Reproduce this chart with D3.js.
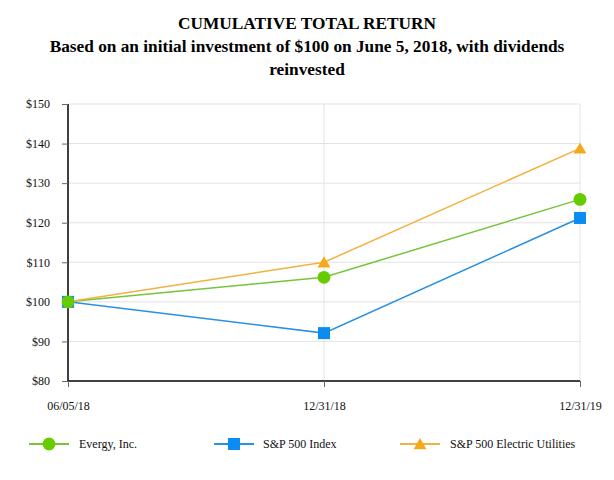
<!DOCTYPE html>
<html>
<head>
<meta charset="utf-8">
<script src="https://cdn.jsdelivr.net/npm/d3@7"></script>
<style>
  body { margin: 0; background: #fff; }
  svg text { font-family: "Liberation Serif", "Times New Roman", serif !important; }
</style>
</head>
<body>
<svg id="chart" width="614" height="480"></svg>
<script>
const dates = ["06/05/18", "12/31/18", "12/31/19"];
const evergy = [100, 106.2, 125.9];
const sp500 = [100, 92.1, 121.2];
const utilities = [100, 110.0, 138.8];
const yTicks = [80, 90, 100, 110, 120, 130, 140, 150];

const series = [
  { name: "Evergy, Inc.", values: evergy, color: "#66cc00", line: "#77c43a", shape: "circle" },
  { name: "S&P 500 Index", values: sp500, color: "#0a8cf0", line: "#2a90e0", shape: "square" },
  { name: "S&P 500 Electric Utilities", values: utilities, color: "#f5a81c", line: "#f2b140", shape: "triangle" }
];

const serif = '"Liberation Serif", "Times New Roman", serif';
const svg = d3.select("#chart").attr("font-family", serif);
const margin = { top: 104, right: 34, bottom: 99, left: 68 };
const width = 614 - margin.left - margin.right;
const height = 480 - margin.top - margin.bottom;

// title
const title = ["CUMULATIVE TOTAL RETURN",
  "Based on an initial investment of $100 on June 5, 2018, with dividends",
  "reinvested"];
svg.selectAll(".title")
  .data(title)
  .enter().append("text")
  .attr("x", 307)
  .attr("y", (d, i) => 29 + i * 23)
  .attr("text-anchor", "middle")
  .style("font-family", serif)
  .style("font-size", "17.3px")
  .style("font-weight", "bold")
  .text(d => d);

const g = svg.append("g")
  .attr("transform", `translate(${margin.left},${margin.top})`);

const x = d3.scalePoint().domain(dates).range([0, width]);
const y = d3.scaleLinear().domain([80, 150]).range([height, 0]);

// grid
g.selectAll(".hgrid")
  .data(yTicks.slice(1))
  .enter().append("line")
  .attr("x1", 0).attr("x2", width)
  .attr("y1", d => y(d)).attr("y2", d => y(d))
  .attr("stroke", "#e3e3e3");
g.selectAll(".vgrid")
  .data(dates.slice(1))
  .enter().append("line")
  .attr("x1", d => x(d)).attr("x2", d => x(d))
  .attr("y1", 0).attr("y2", height)
  .attr("stroke", "#e3e3e3");

// axes
const yAxis = g.append("g")
  .call(d3.axisLeft(y).tickValues(yTicks).tickSize(6).tickPadding(12).tickFormat(d => "$" + d))
  .attr("font-family", serif);
yAxis.select(".domain").attr("stroke", "#000").attr("stroke-width", 1.5).attr("d", `M0,0V${height}`);
yAxis.selectAll(".tick line").attr("stroke", "#666");
yAxis.selectAll("text").style("font-family", serif).style("font-size", "12px").attr("fill", "#111");

const xAxis = g.append("g")
  .attr("transform", `translate(0,${height})`)
  .call(d3.axisBottom(x).tickSize(6).tickPadding(14))
  .attr("font-family", serif);
xAxis.select(".domain").attr("stroke", "#000").attr("stroke-width", 1.5).attr("d", `M0,0H${width}`);
xAxis.selectAll(".tick line").attr("stroke", "#666");
xAxis.selectAll("text").style("font-family", serif).style("font-size", "12px").attr("fill", "#111");

const symbolFor = s => s === "circle" ? d3.symbolCircle : s === "square" ? d3.symbolSquare : d3.symbolTriangle;
const sizeFor = s => s === "circle" ? 130 : s === "square" ? 144 : 72;

const line = d3.line().x((d, i) => x(dates[i])).y(d => y(d));

series.forEach(s => {
  g.append("path")
    .datum(s.values)
    .attr("fill", "none")
    .attr("stroke", s.line)
    .attr("stroke-width", 1.5)
    .attr("d", line);
});
// markers after lines, circles end up on top
[series[2], series[1], series[0]].forEach(s => {
  g.selectAll(null)
    .data(s.values)
    .enter().append("path")
    .attr("transform", (d, i) => `translate(${x(dates[i])},${y(d) + (s.shape === "triangle" ? 1.5 : 0)})`)
    .attr("d", d3.symbol().type(symbolFor(s.shape)).size(sizeFor(s.shape)))
    .attr("fill", s.color);
});

// legend
const legendX = [29, 214, 400];
const legend = svg.selectAll(".legend")
  .data(series)
  .enter().append("g")
  .attr("transform", (d, i) => `translate(${legendX[i]},444)`);
legend.append("line")
  .attr("x1", 0).attr("x2", 40)
  .attr("stroke", d => d.line).attr("stroke-width", 2);
legend.append("path")
  .attr("transform", d => `translate(20,${d.shape === "triangle" ? 1.5 : 0})`)
  .attr("d", d => d3.symbol().type(symbolFor(d.shape)).size(sizeFor(d.shape))())
  .attr("fill", d => d.color);
legend.append("text")
  .attr("x", (d, i) => i === 1 ? 49 : 50)
  .attr("y", 4)
  .style("font-family", serif)
  .style("font-size", "12px")
  .attr("fill", "#111")
  .text(d => d.name);
</script>
</body>
</html>
